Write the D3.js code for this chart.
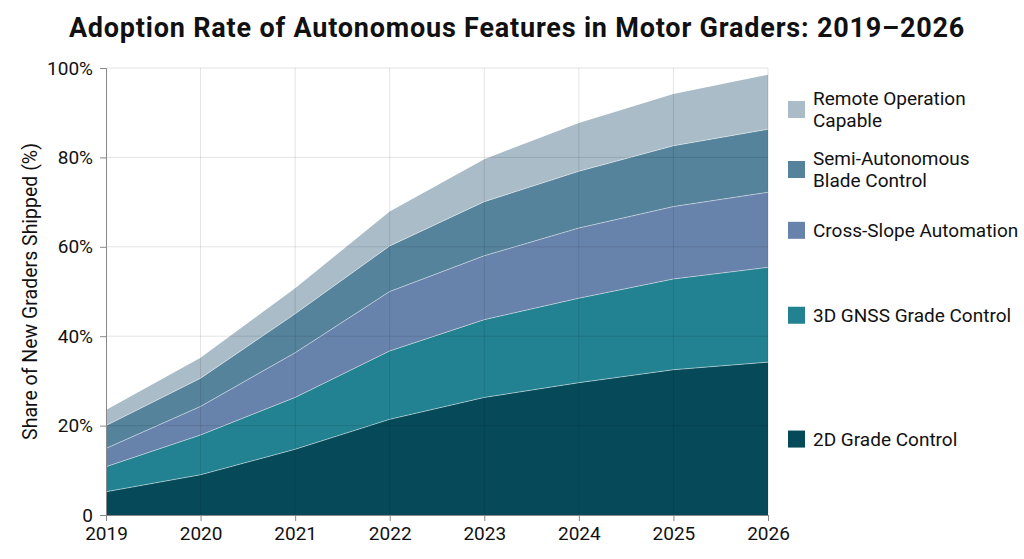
<!DOCTYPE html>
<html>
<head>
<meta charset="utf-8">
<script src="https://cdn.jsdelivr.net/npm/d3@7"></script>
<style>
  body { margin: 0; background: #fff; }
  svg { display: block; font-family: Roboto, "Noto Sans", sans-serif; }
</style>
</head>
<body>
<script>
var years = [2019, 2020, 2021, 2022, 2023, 2024, 2025, 2026];

// series, bottom to top (share of new graders shipped, %)
var seriesKeys = ['2D Grade Control', '3D GNSS Grade Control', 'Cross-Slope Automation',
  'Semi-Autonomous Blade Control', 'Remote Operation Capable'];

var grade2d = [5.2, 9.0, 14.7, 21.4, 26.3, 29.6, 32.5, 34.2];
var gnss3d = [5.6, 8.9, 11.6, 15.3, 17.4, 18.9, 20.3, 21.2];
var crossSlope = [4.1, 6.4, 10.0, 13.3, 14.3, 15.7, 16.2, 16.8];
var semiAuto = [5.1, 6.3, 8.7, 10.2, 12.1, 12.7, 13.6, 14.1];
var remoteOp = [3.5, 4.6, 5.7, 7.7, 9.5, 10.8, 11.6, 12.2];

var yTicks = [0, 20, 40, 60, 80, 100];
var colors = ['#064a5a', '#238291', '#6883ab', '#55839c', '#a9bcc8'];

var w = 1024;
var h = 559;
var margin = {top: 68, right: 256, bottom: 44, left: 106};

var table = years.map(function(y, i) {
  var row = {year: y};
  row[seriesKeys[0]] = grade2d[i];
  row[seriesKeys[1]] = gnss3d[i];
  row[seriesKeys[2]] = crossSlope[i];
  row[seriesKeys[3]] = semiAuto[i];
  row[seriesKeys[4]] = remoteOp[i];
  return row;
});

var svg = d3.select('body')
  .append('svg')
  .attr('width', w)
  .attr('height', h);

/* ===== scales ===== */

var xScale = d3.scaleLinear()
  .domain([2019, 2026])
  .range([margin.left, w - margin.right]);

var yScale = d3.scaleLinear()
  .domain([0, 100])
  .range([h - margin.bottom, margin.top]);

var stack = d3.stack().keys(seriesKeys);
var layers = stack(table);

var area = d3.area()
  .x(function(d) { return xScale(d.data.year); })
  .y0(function(d) { return yScale(d[0]); })
  .y1(function(d) { return yScale(d[1]); });

/* ===== areas ===== */

svg.append('g')
  .selectAll('path')
  .data(layers)
  .enter()
  .append('path')
  .attr('d', area)
  .attr('fill', function(d, i) { return colors[i]; });

// thin light edge on top of each layer
var topLine = d3.line()
  .x(function(d) { return xScale(d.data.year); })
  .y(function(d) { return yScale(d[1]); });

svg.append('g')
  .selectAll('path')
  .data(layers.slice(0, 4))
  .enter()
  .append('path')
  .attr('d', topLine)
  .attr('fill', 'none')
  .attr('stroke', '#ffffff')
  .attr('stroke-opacity', 0.45)
  .attr('stroke-width', 1);

/* ===== grid ===== */

var grid = svg.append('g').attr('class', 'grid');

grid.selectAll('line.h')
  .data(yTicks.slice(1))
  .enter()
  .append('line')
  .attr('x1', margin.left)
  .attr('x2', w - margin.right)
  .attr('y1', function(d) { return yScale(d); })
  .attr('y2', function(d) { return yScale(d); })
  .attr('stroke', '#000')
  .attr('stroke-opacity', 0.11);

grid.selectAll('line.v')
  .data(years.slice(1))
  .enter()
  .append('line')
  .attr('x1', function(d) { return xScale(d); })
  .attr('x2', function(d) { return xScale(d); })
  .attr('y1', margin.top)
  .attr('y2', h - margin.bottom)
  .attr('stroke', '#000')
  .attr('stroke-opacity', 0.11);

/* ===== axes ===== */

var xAxis = d3.axisBottom(xScale)
  .tickValues(years)
  .tickFormat(d3.format('d'))
  .tickSize(6)
  .tickPadding(6);

var yAxis = d3.axisLeft(yScale)
  .tickValues(yTicks)
  .tickFormat(function(d) { return d === 0 ? '0' : d + '%'; })
  .tickSize(6)
  .tickPadding(7);

var gx = svg.append('g')
  .attr('transform', 'translate(0,' + (h - margin.bottom) + ')')
  .call(xAxis);

var gy = svg.append('g')
  .attr('transform', 'translate(' + margin.left + ',0)')
  .call(yAxis);

[gx, gy].forEach(function(g) {
  g.select('.domain').attr('stroke', '#888');
  g.selectAll('.tick line').attr('stroke', '#888');
  g.selectAll('.tick text')
    .attr('fill', '#111')
    .style('font-size', '19px')
    .style('font-family', 'Roboto, sans-serif');
});

svg.append('text')
  .attr('transform', 'translate(37,' + yScale(50) + ') rotate(-90)')
  .attr('text-anchor', 'middle')
  .style('font-size', '19.5px')
  .attr('fill', '#111')
  .text('Share of New Graders Shipped (%)');

/* ===== title ===== */

svg.append('text')
  .attr('x', 517)
  .attr('y', 37)
  .attr('text-anchor', 'middle')
  .style('font-size', '27px')
  .style('font-weight', 'bold')
  .style('letter-spacing', '0.8px')
  .attr('fill', '#111')
  .text('Adoption Rate of Autonomous Features in Motor Graders: 2019\u20132026');

/* ===== legend (placed next to each layer's end, spread apart) ===== */

var legendLines = [['2D Grade Control'], ['3D GNSS Grade Control'], ['Cross-Slope Automation'],
  ['Semi-Autonomous', 'Blade Control'], ['Remote Operation', 'Capable']];

var last = layers.map(function(l) { return l[l.length - 1]; });
var legendY = last.map(function(d) { return yScale((d[0] + d[1]) / 2); });
var minGap = 60;
var topLimit = margin.top + 41;
for (var it = 0; it < 30; it++) {
  for (var k = 1; k < legendY.length; k++) {
    var gap = legendY[k - 1] - legendY[k];
    if (gap < minGap) {
      legendY[k - 1] += (minGap - gap) / 2;
      legendY[k] -= (minGap - gap) / 2;
    }
  }
  if (legendY[legendY.length - 1] < topLimit) legendY[legendY.length - 1] = topLimit;
}

var legend = svg.append('g')
  .selectAll('g')
  .data(seriesKeys)
  .enter()
  .append('g')
  .attr('transform', function(d, i) { return 'translate(788,' + legendY[i] + ')'; });

legend.append('rect')
  .attr('x', 0)
  .attr('y', -8)
  .attr('width', 17)
  .attr('height', 17)
  .attr('fill', function(d, i) { return colors[i]; });

legend.append('text')
  .attr('x', 25)
  .attr('fill', '#111')
  .style('font-size', '19px')
  .each(function(d, i) {
    var lines = legendLines[i];
    var t = d3.select(this);
    lines.forEach(function(s, j) {
      t.append('tspan')
        .attr('x', 25)
        .attr('y', (j - (lines.length - 1) / 2) * 22 + 7)
        .text(s);
    });
  });
</script>
</body>
</html>
